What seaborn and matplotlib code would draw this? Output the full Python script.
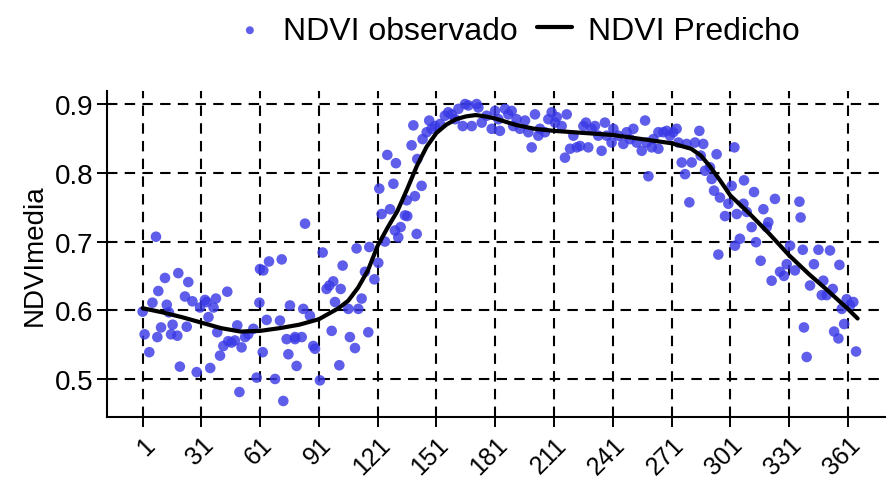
import matplotlib
matplotlib.use("Agg")
import matplotlib.pyplot as plt
import seaborn as sns
import pandas as pd

# Observed mean NDVI per day of year
obs_day = [
    1, 2, 4.4, 6, 7.8, 8.5, 9, 10.4, 12.4, 13.3, 14.4, 15.5, 16.3, 18.7, 19.2, 20,
    22.6, 23.5, 24.3, 26.4, 28.6, 30.3, 32.8, 33.7, 34.6, 35.5, 37.2, 38.4, 39.1,
    40.5, 42.2, 44.2, 44.7, 46.4, 48.1, 49.3, 50.4, 51.5, 53.3, 54.9, 57.5, 59.2,
    60.6, 60.9, 62.6, 62.3, 64.3, 65.5, 68.6, 71.1, 72, 72.8, 74.5, 75.4, 76.2,
    78.8, 79.6, 78.8, 82.2, 83, 83.9, 86.4, 88.1, 89, 91.5, 92.9, 94.9, 96.3,
    97.5, 98.3, 99.2, 101.4, 102.1, 103.1, 106, 106.8, 109.4, 110.2, 111.1,
    112.8, 114.5, 116.2, 116.7, 119.3, 121.3, 121.8, 124.7, 123, 125.9, 127.3,
    129, 129.8, 130.3, 131.5, 132.7, 134.9, 135.8, 136.1, 138.3, 140, 139.2,
    140.9, 141.2, 143.4, 143.9, 146, 147.3, 148.5, 150.2, 152.8, 155.3, 157,
    158.8, 160.5, 162.2, 164.4, 165.6, 167.3, 169, 171.5,
    172.4, 174.1, 176.6, 179.2, 180.9, 182.6, 183.4, 186, 187.7, 189.4, 190.2,
    191.9, 193.6, 196.2, 197.9, 199.6, 201.3, 203, 203.8, 206.4, 208.1, 209.8,
    211.5, 212.4, 214.9, 216.6, 217.5, 219.2, 220.9, 222.6, 224.3, 226, 227.3,
    228.5, 230.2, 231.9, 233.6, 235.3, 237, 237.9, 240.4, 241.3, 243.8, 246.4,
    248.1, 249.8, 251.5, 253.2, 255.8, 257.5, 259.2, 261.7, 264.3,
    258.3, 260.9, 264.3, 266.8, 268.5, 270.2, 271.9, 273.6, 274.5, 276.2, 277.9,
    278.7, 280.1, 281.3, 283, 285.2, 285.9, 287.2, 288.1, 290.6, 291.5, 292.7,
    294, 294.9, 295.7, 298.3, 300, 301.7, 303.1, 303.4, 304.3, 305.9, 307.7,
    308, 309.4, 311.9, 313.1, 314.1, 316.5, 317.9, 319.6, 320.4, 322.1, 323.8,
    326.4, 328.4, 329.8, 331.5, 334, 336.3, 336.9, 338, 338.6, 340, 341.7,
    343.7, 346, 347.7, 348.5, 350.2, 351.9, 353.3, 354, 356.2, 356.7, 357.9,
    359.1, 360.4, 362.1, 363.8, 365.2,
]
obs_ndvi = [
    0.598, 0.565, 0.539, 0.611, 0.707, 0.561, 0.628, 0.575, 0.647, 0.608, 0.597,
    0.565, 0.579, 0.563, 0.654, 0.518, 0.620, 0.576, 0.641, 0.613, 0.510, 0.604,
    0.615, 0.612, 0.590, 0.516, 0.604, 0.617, 0.568, 0.534, 0.548, 0.627, 0.555,
    0.553, 0.556, 0.578, 0.481, 0.546, 0.561, 0.565, 0.573, 0.502, 0.611, 0.660,
    0.658, 0.539, 0.586, 0.671, 0.500, 0.585, 0.674, 0.468, 0.558, 0.536, 0.607,
    0.558, 0.519, 0.561, 0.561, 0.602, 0.726, 0.592, 0.548, 0.544, 0.498, 0.684,
    0.631, 0.636, 0.570, 0.642, 0.612, 0.520, 0.631, 0.665, 0.602, 0.561, 0.545,
    0.690, 0.602, 0.617, 0.656, 0.568, 0.692, 0.645, 0.669, 0.777, 0.700, 0.740,
    0.826, 0.747, 0.784, 0.716, 0.814, 0.706, 0.721, 0.738, 0.760, 0.737, 0.840,
    0.766, 0.869, 0.711, 0.820, 0.781, 0.849, 0.859, 0.876, 0.864, 0.868, 0.871,
    0.883, 0.888, 0.885, 0.878, 0.893, 0.868, 0.900, 0.898, 0.868, 0.900,
    0.895, 0.873, 0.883, 0.864, 0.890, 0.878, 0.861, 0.893, 0.885, 0.890, 0.868,
    0.878, 0.864, 0.876, 0.859, 0.837, 0.885, 0.854, 0.864, 0.859, 0.878, 0.888,
    0.873, 0.881, 0.868, 0.822, 0.885, 0.835, 0.854, 0.837, 0.839, 0.868, 0.873,
    0.837, 0.864, 0.868, 0.854, 0.832, 0.873, 0.854, 0.844, 0.864, 0.854, 0.842,
    0.859, 0.849, 0.864, 0.844, 0.832, 0.876, 0.795, 0.849, 0.859,
    0.844, 0.837, 0.835, 0.859, 0.861, 0.854, 0.859, 0.864, 0.844, 0.815, 0.798,
    0.842, 0.757, 0.815, 0.844, 0.861, 0.825, 0.842, 0.803, 0.808, 0.791, 0.774,
    0.827, 0.681, 0.764, 0.737, 0.755, 0.781, 0.837, 0.694, 0.740, 0.704, 0.755,
    0.789, 0.743, 0.721, 0.772, 0.699, 0.672, 0.747, 0.721, 0.728, 0.643, 0.762,
    0.656, 0.650, 0.667, 0.694, 0.658, 0.758, 0.735, 0.688, 0.575, 0.532, 0.636,
    0.667, 0.688, 0.622, 0.643, 0.622, 0.687, 0.631, 0.569, 0.559, 0.666, 0.602,
    0.580, 0.616, 0.607, 0.612, 0.540,
]

# Fitted (predicted) NDVI curve
pred_day = [1, 11, 21, 31, 41, 51, 61, 71, 81, 91, 101, 106, 111, 116, 121, 126,
            131, 136, 141, 146, 151, 156, 161, 166, 171, 176, 181, 191, 201, 211,
            221, 231, 241, 251, 261, 271, 281, 286, 291, 296, 301, 311, 321, 331,
            341, 351, 361, 366]
pred_ndvi = [0.603, 0.597, 0.590, 0.582, 0.574, 0.569, 0.570, 0.574, 0.579,
             0.587, 0.603, 0.614, 0.633, 0.658, 0.694, 0.720, 0.744, 0.776,
             0.810, 0.838, 0.858, 0.870, 0.878, 0.882, 0.884, 0.882, 0.879,
             0.870, 0.864, 0.861, 0.859, 0.857, 0.855, 0.851, 0.847, 0.843,
             0.835, 0.825, 0.808, 0.788, 0.767, 0.740, 0.711, 0.680, 0.653,
             0.628, 0.602, 0.588]

x_ticks = [1, 31, 61, 91, 121, 151, 181, 211, 241, 271, 301, 331, 361]
y_ticks = [0.5, 0.6, 0.7, 0.8, 0.9]

obs = pd.DataFrame({"dia": obs_day, "NDVImedia": obs_ndvi})
pred = pd.DataFrame({"dia": pred_day, "NDVImedia": pred_ndvi})

sns.set_theme(style="white")
plt.rcParams["font.family"] = ["Liberation Sans", "DejaVu Sans"]
plt.rcParams["text.color"] = "black"

fig = plt.figure(figsize=(8.87, 4.85), dpi=100)
ax = fig.add_axes([107 / 887, 67 / 485, 780 / 887, 326 / 485])

sns.scatterplot(data=obs, x="dia", y="NDVImedia", ax=ax, color="#3a3ae6",
                alpha=0.82, s=58, edgecolor="none", label="NDVI observado",
                zorder=3)
sns.lineplot(data=pred, x="dia", y="NDVImedia", ax=ax, color="black",
             linewidth=3.0, label="NDVI Predicho", zorder=4)

ax.set_xlim(-17.2, 381)
ax.set_ylim(0.4447, 0.919)
ax.set_xticks(x_ticks)
ax.set_yticks(y_ticks)
ax.set_yticklabels([f"{v:.1f}" for v in y_ticks])
ax.set_xticklabels([str(v) for v in x_ticks], rotation=45, ha="right",
                   va="top", rotation_mode="anchor")

ax.grid(True, color="black", linestyle=(0, (5, 3.5)), linewidth=1.5)
ax.set_axisbelow(True)
for side in ("top", "right"):
    ax.spines[side].set_visible(False)
for side in ("left", "bottom"):
    ax.spines[side].set_color("black")
    ax.spines[side].set_linewidth(1.5)

ax.tick_params(axis="both", which="major", direction="out", length=7,
               width=1.4, color="black", labelcolor="black",
               bottom=True, left=True)
ax.tick_params(axis="x", pad=4, labelsize=18)
ax.tick_params(axis="y", pad=3, labelsize=20)
ax.set_xlabel("")
ax.set_ylabel("NDVImedia", fontsize=20, color="black", labelpad=5)

handles, labels = ax.get_legend_handles_labels()
ax.legend_.remove()
fig.legend(handles, labels, loc="upper center", ncol=2, frameon=False,
           bbox_to_anchor=(0.582, 1.025), fontsize=23, handlelength=1.1,
           handletextpad=0.5, columnspacing=0.6, markerscale=0.75,
           labelcolor="black")

fig.savefig("out.png", dpi=100)
